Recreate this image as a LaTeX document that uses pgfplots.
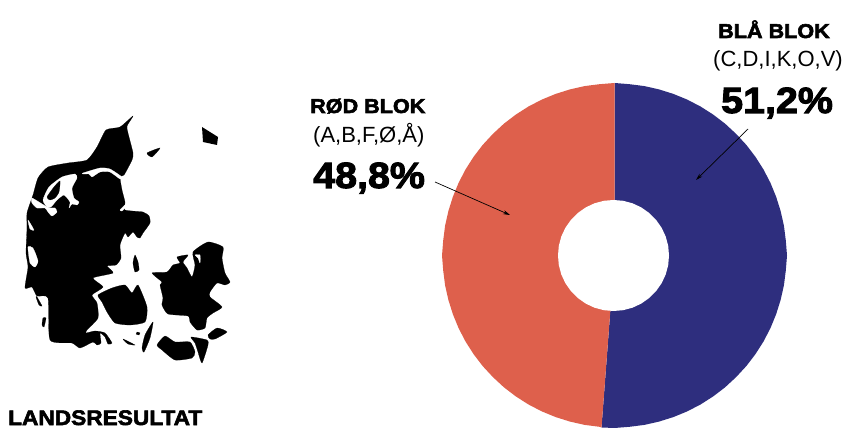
\documentclass[border=0pt]{standalone}
\usepackage{pgfplots}
\pgfplotsset{compat=1.18}
\usepackage{fontspec}
\setmainfont{Liberation Sans}
\newfontfamily\heavy[FakeBold=2.8,FakeStretch=1.08]{Liberation Sans Bold}
\usetikzlibrary{arrows.meta}
\definecolor{navy}{HTML}{2E2E7E}
\definecolor{redb}{HTML}{DE604C}
\pgfplotsset{base/.style={hide axis,scale only axis,width=843pt,height=430pt,at={(0pt,0pt)},anchor=south west,clip=false}}
\begin{document}
\begin{tikzpicture}[x=1pt,y=1pt]
\path[use as bounding box] (0,0) rectangle (843,430);
% donut: coordinates are offsets from its centre
\begin{axis}[base,xmin=-614.5,xmax=228.5,ymin=-174.5,ymax=255.5]
\addplot[fill=navy,draw=none] coordinates {(0,0)(0,172.5)(15,171.3)(29.9,169.4)(44.5,166.1)(58.8,161.6)(72.7,155.9)(86,149)(98.7,140.9)(110.6,131.8)(121.6,121.6)(131.8,110.6)(140.9,98.7)(149,86)(155.9,72.7)(161.6,58.8)(166.1,44.5)(169.4,29.9)(171.3,15)(172.5,0)(171.3,-15)(169.4,-29.9)(166.1,-44.5)(161.6,-58.8)(155.9,-72.7)(149,-86)(140.9,-98.7)(131.8,-110.6)(121.6,-121.6)(110.6,-131.8)(98.7,-140.9)(86,-149)(72.7,-155.9)(58.8,-161.6)(44.5,-166.1)(29.9,-169.4)(15,-171.3)(0,-172.5)(-13,-172)} --cycle;
\addplot[fill=redb,draw=none] coordinates {(0,0)(-13,-172)(-15,-171.3)(-29.9,-169.4)(-44.5,-166.1)(-58.8,-161.6)(-72.7,-155.9)(-86,-149)(-98.7,-140.9)(-110.6,-131.8)(-121.6,-121.6)(-131.8,-110.6)(-140.9,-98.7)(-149,-86)(-155.9,-72.7)(-161.6,-58.8)(-166.1,-44.5)(-169.4,-29.9)(-171.3,-15)(-172.5,0)(-171.3,15)(-169.4,29.9)(-166.1,44.5)(-161.6,58.8)(-155.9,72.7)(-149,86)(-140.9,98.7)(-131.8,110.6)(-121.6,121.6)(-110.6,131.8)(-98.7,140.9)(-86,149)(-72.7,155.9)(-58.8,161.6)(-44.5,166.1)(-29.9,169.4)(-15,171.3)(0,172.5)} --cycle;
\addplot[fill=white,draw=none] coordinates {(-1,55.5)(8.6,54.7)(18,52.2)(26.75,48.1)(34.7,42.5)(41.5,35.7)(47.1,27.75)(51.2,19)(53.7,9.6)(54.5,0)(53.7,-9.6)(51.2,-19)(47.1,-27.75)(41.5,-35.7)(34.7,-42.5)(26.75,-48.1)(18,-52.2)(8.6,-54.7)(-1,-55.5)(-10.6,-54.7)(-20,-52.2)(-28.75,-48.1)(-36.7,-42.5)(-43.5,-35.7)(-49.1,-27.75)(-53.2,-19)(-55.7,-9.6)(-56.5,0)(-55.7,9.6)(-53.2,19)(-49.1,27.75)(-43.5,35.7)(-36.7,42.5)(-28.75,48.1)(-20,52.2)(-10.6,54.7)} --cycle;
\end{axis}
% map and annotations: coordinates are picture pixels
\begin{axis}[base,xmin=0,xmax=843,ymin=0,ymax=430,y dir=reverse]
\pgfplotsset{land/.style={fill=black,draw=black,line width=0.2pt,line join=round,smooth cycle,tension=0.35},
 sea/.style={fill=white,draw=white,line width=0.2pt,line join=round,smooth cycle,tension=0.35}}
% Jutland
\addplot[land] coordinates {(133,116)(127,126)(128,133)(133,153)(132,160)(124,175)(120,177)(122,190)(125,202)(125,210)(143,212)(149,216)(150,223)(143,233)(140,238)(137,237)(133,232)(128,237)(125,233)(120,245)(121,258)(116,265)(107,266)(113,273)(93,278)(103,287)(92,295)(97,303)(98,318)(87,330)(86,333)(95,331)(105,333)(112,343)(108,344)(105,337)(100,333)(101,343)(97,345)(93,342)(80,348)(72,343)(50,340)(48,298)(37,296)(32,287)(25,288)(28,267)(26,253)(27,228)(27,213)(33,195)(38,178)(48,167)(68,163)(87,160)(97,147)(106,130)(120,127)};
% Limfjord and west-coast fjords
\addplot[sea] coordinates {(32,198)(47,207)(50,208)(55,208)(57,212)(52,216)(48,212)(45,208)(37,208)(32,203)};
\addplot[sea] coordinates {(43,200)(49,187)(62,177)(75,174)(77,178)(72,188)(74,198)(79,202)(77,205)(72,204)(69,208)(70,202)(64,195)(57,200)(51,207)(47,207)};
\addplot[land] coordinates {(47,197)(54,187)(60,181)(59,192)(55,198)(50,200)};
\addplot[sea] coordinates {(83,173)(100,168)(110,169)(122,177)(120,179)(110,172)(100,172)(92,177)(89,174)(83,174)};
\addplot[sea] coordinates {(120,210)(125,205)(126,207)(122,211)};
\addplot[sea] coordinates {(28,247)(33,248)(38,261)(35,267)(30,263)};
\addplot[sea] coordinates {(28,220)(34,230)(30,229)};
% islands
\addplot[land] coordinates {(147,153)(160,148)(152,157)};
\addplot[fill=black,draw=none] coordinates {(202,127)(218,137)(217,145)(203,142)} --cycle;
\addplot[land] coordinates {(37,297)(42,306)(39,305)(36,297)};
\addplot[land] coordinates {(43,318)(46,318)(44,327)(42,325)};
% Funen
\addplot[land] coordinates {(98,295)(112,288)(125,285)(132,293)(138,285)(147,307)(145,322)(130,325)(115,323)(107,312)(102,302)};
% Zealand
\addplot[land] coordinates {(152,273)(167,272)(173,265)(180,263)(177,257)(188,255)(183,262)(187,268)(192,277)(195,265)(193,252)(208,242)(223,247)(222,258)(225,273)(230,282)(225,285)(217,283)(210,292)(210,297)(222,307)(213,313)(207,318)(205,328)(197,330)(190,322)(188,316)(168,314)(162,305)(163,298)(160,285)(162,282)};
\addplot[sea] coordinates {(195,255)(200,255)(200,263)(198,258)};
% Lolland, Falster, Moen
\addplot[land] coordinates {(157,345)(165,336)(175,342)(190,342)(195,352)(192,358)(175,360)(162,350)};
\addplot[land] coordinates {(191,337)(207,340)(208,345)(202,363)(198,352)(195,343)};
\addplot[land] coordinates {(208,335)(217,328)(227,332)(215,339)(210,339)};
% Langeland, Aeroe, Samsoe and others
\addplot[land] coordinates {(153,322)(150,338)(144,352)(142,348)(145,335)};
\addplot[land] coordinates {(123,339)(135,345)(128,344)};
\addplot[land] coordinates {(137,332)(140,333)(139,335)(136,334)};
\addplot[land] coordinates {(135,255)(138,262)(139,270)(135,272)(133,263)};
% labels
\node[anchor=base west,inner sep=0pt,font=\heavy\fontsize{20}{20}\selectfont] at (axis cs:310,113) {RØD BLOK};
\node[anchor=base west,inner sep=0pt,font=\fontsize{22}{22}\selectfont] at (axis cs:313,143) {(A,B,F,Ø,Å)};
\node[anchor=base west,inner sep=0pt,font=\heavy\fontsize{36.5}{36}\selectfont] at (axis cs:313,188) {48,8\%};
\node[anchor=base west,inner sep=0pt,font=\heavy\fontsize{20}{20}\selectfont] at (axis cs:718,38) {BLÅ BLOK};
\node[anchor=base west,inner sep=0pt,font=\fontsize{22}{22}\selectfont] at (axis cs:713,67) {(C,D,I,K,O,V)};
\node[anchor=base west,inner sep=0pt,font=\heavy\fontsize{36.5}{36}\selectfont] at (axis cs:721,113) {51,2\%};
\node[anchor=base west,inner sep=0pt,font=\heavy\fontsize{21}{22}\selectfont] at (axis cs:8,425) {LANDSRESULTAT};
\draw[-{Stealth[length=7pt,width=4pt]},line width=0.7pt] (axis cs:435,182) -- (axis cs:510,215);
\draw[-{Stealth[length=7pt,width=4pt]},line width=0.7pt] (axis cs:748,129) -- (axis cs:696,180);
\end{axis}
\end{tikzpicture}
\end{document}
